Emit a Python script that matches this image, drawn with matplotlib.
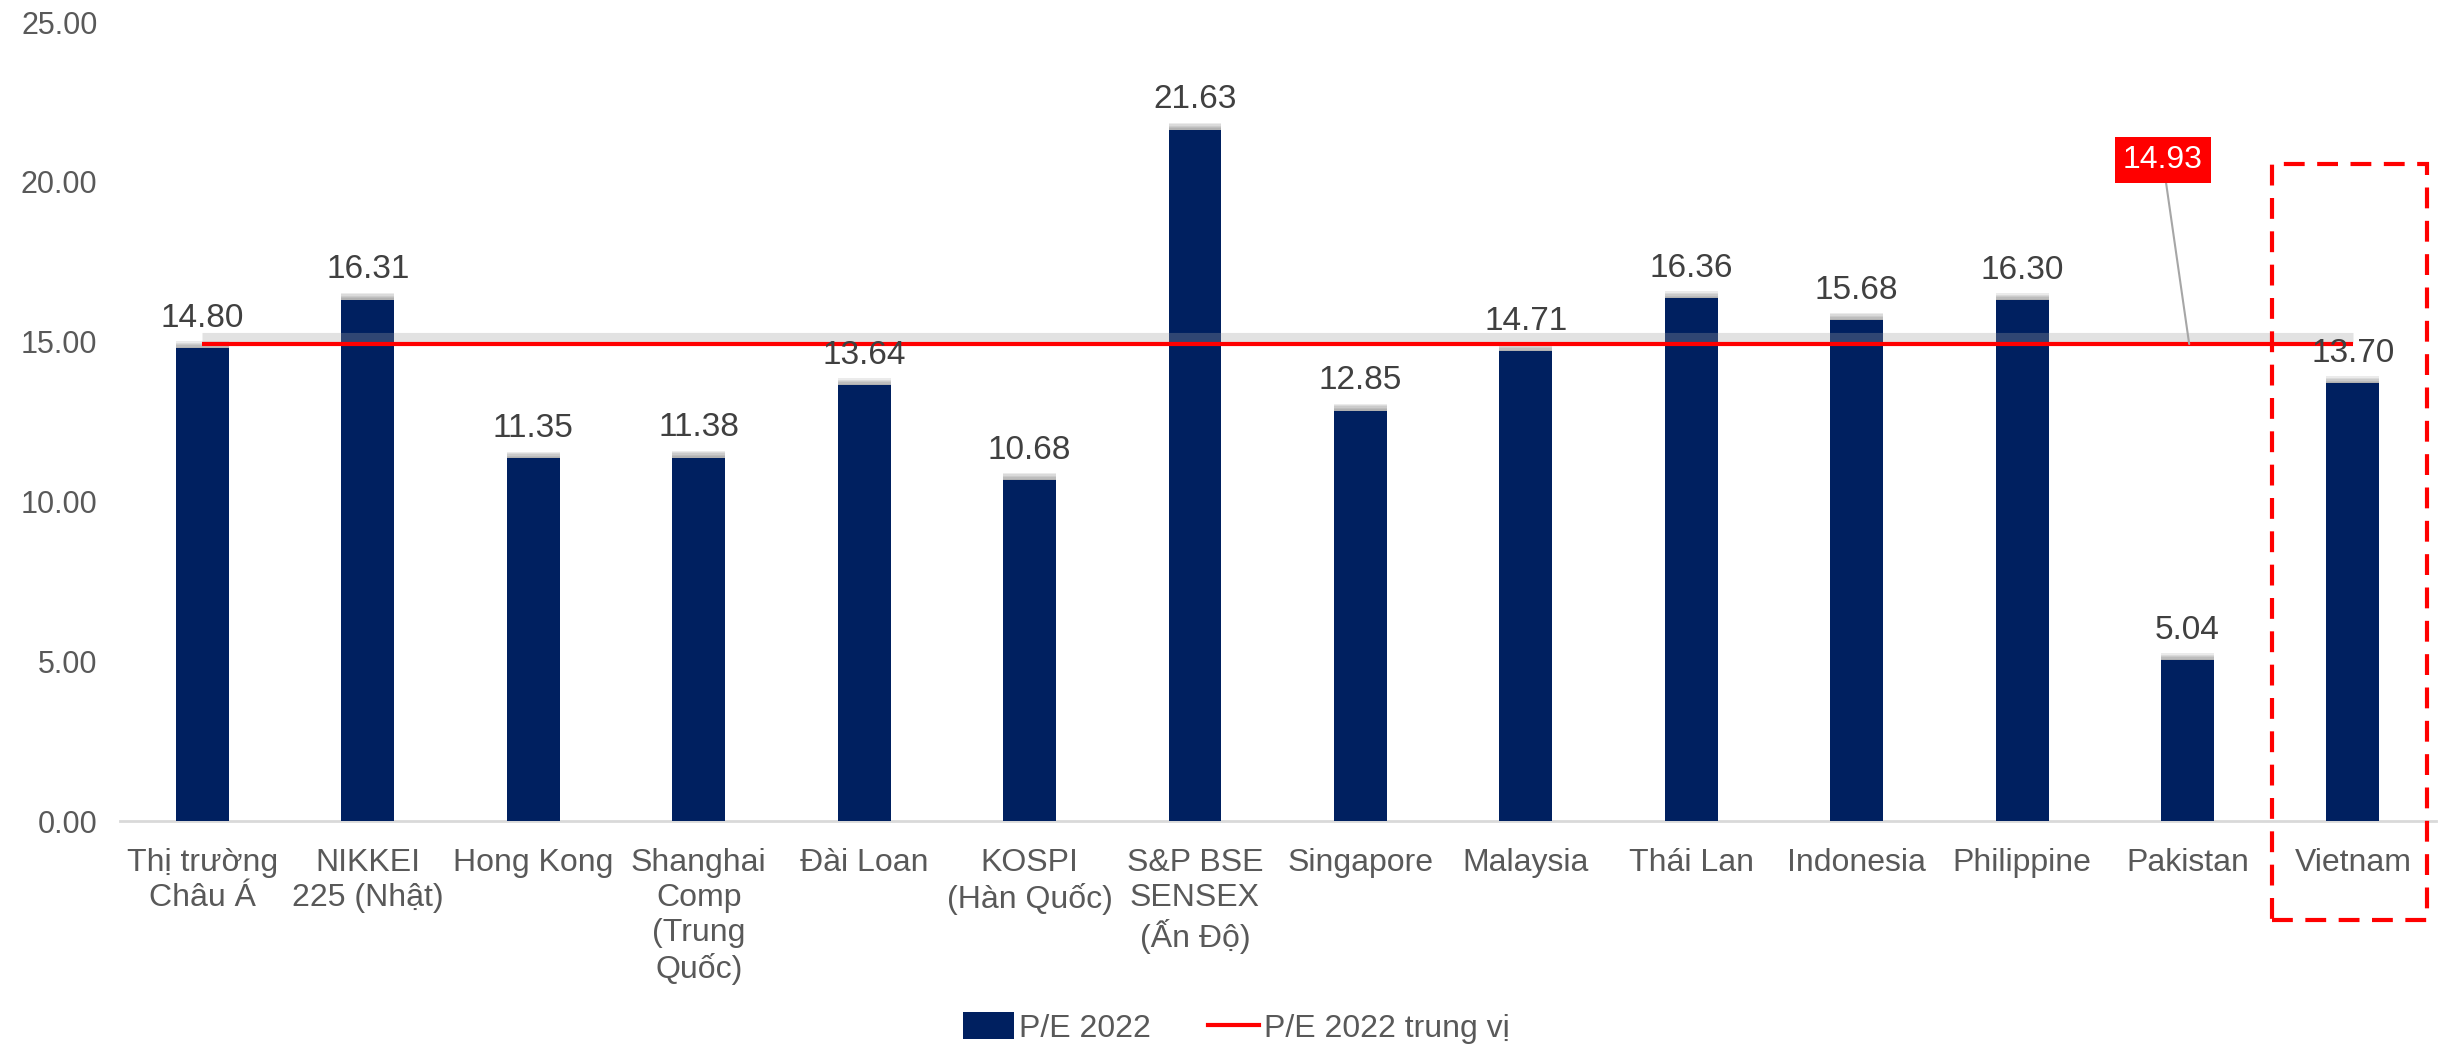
import matplotlib
matplotlib.use("Agg")
import matplotlib.pyplot as plt
import matplotlib.patheffects as pe
from matplotlib.patches import Rectangle, Patch
from matplotlib.lines import Line2D
import numpy as np

plt.rcParams['font.family'] = ['Liberation Sans', 'DejaVu Sans']

categories = ["Thị trường\nChâu Á", "NIKKEI\n225 (Nhật)", "Hong Kong", "Shanghai\nComp\n(Trung\nQuốc)",
              "Đài Loan", "KOSPI\n(Hàn Quốc)", "S&P BSE\nSENSEX\n(Ấn Độ)", "Singapore", "Malaysia",
              "Thái Lan", "Indonesia", "Philippine", "Pakistan", "Vietnam"]
pe_2022 = [14.80, 16.31, 11.35, 11.38, 13.64, 10.68, 21.63, 12.85, 14.71, 16.36, 15.68, 16.30, 5.04, 13.70]
median_pe = 14.93
yticks = [0, 5, 10, 15, 20, 25]

BAR = '#002060'
TXT = '#595959'
LBL = '#404040'

fig = plt.figure(figsize=(24.43, 10.49), dpi=100)
ax = fig.add_axes([0.049, 0.217, 0.948, 0.762])

x = np.arange(len(categories))
bars = ax.bar(x, pe_2022, width=0.32, color=BAR, zorder=3)
shadow_fx = [pe.SimplePatchShadow(offset=(0, o), shadow_rgbFace='#606060', alpha=0.12) for o in (1, 2, 3, 4, 5)]
for b in bars:
    b.set_path_effects(shadow_fx + [pe.Normal()])

line, = ax.plot([x[0], x[-1]], [median_pe, median_pe], color='#FF0000', lw=3, zorder=4,
                solid_capstyle='butt')
line.set_path_effects([pe.SimpleLineShadow(offset=(0, 4), shadow_color='#A0A0A0', alpha=0.3, linewidth=8), pe.Normal()])

for xi, v in zip(x, pe_2022):
    ax.text(xi, v + 0.45, f"{v:.2f}", ha='center', va='bottom', fontsize=24, color=LBL, zorder=5)

ax.set_xlim(-0.5, len(categories) - 0.5)
ax.set_ylim(0, 25)
ax.set_yticks(yticks)
ax.set_yticklabels([f"{t:.2f}" for t in yticks], fontsize=22, color=TXT)
ax.set_xticks(x)
ax.set_xticklabels(categories, fontsize=23, color=TXT, linespacing=1.22)
ax.tick_params(axis='both', length=0)
ax.tick_params(axis='x', pad=19)
ax.tick_params(axis='y', pad=16)
for s in ['top', 'right', 'left']:
    ax.spines[s].set_visible(False)
ax.spines['bottom'].set_color('#D9D9D9')
ax.spines['bottom'].set_linewidth(2)

# median label callout
ax.annotate(f"{median_pe:.2f}", xy=(12.01, median_pe), xytext=(11.85, 20.7),
            ha='center', va='center', fontsize=23, color='white',
            bbox=dict(boxstyle='square,pad=0.25', fc='#FF0000', ec='none'),
            arrowprops=dict(arrowstyle='-', color='#A6A6A6', lw=1.5, shrinkA=0, shrinkB=0), zorder=6)

# dashed highlight box around Vietnam
vi = len(categories) - 1
rect = Rectangle((vi - 0.49, -3.07), 0.94, 23.63, fill=False, ec='#FF0000', lw=3,
                 ls=(0, (5, 3)), clip_on=False, zorder=6)
ax.add_patch(rect)

handles = [Patch(facecolor=BAR, edgecolor='none', label='P/E 2022'),
           Line2D([0], [0], color='#FF0000', lw=3, label='P/E 2022 trung vị')]
leg = fig.legend(handles=handles, loc='center', bbox_to_anchor=(0.506, 0.02), ncol=2,
                 frameon=False, fontsize=23, handlelength=1.6, handleheight=0.9,
                 columnspacing=1.8, handletextpad=0.15)
for t in leg.get_texts():
    t.set_color(TXT)

fig.savefig('out.png', dpi=100)
